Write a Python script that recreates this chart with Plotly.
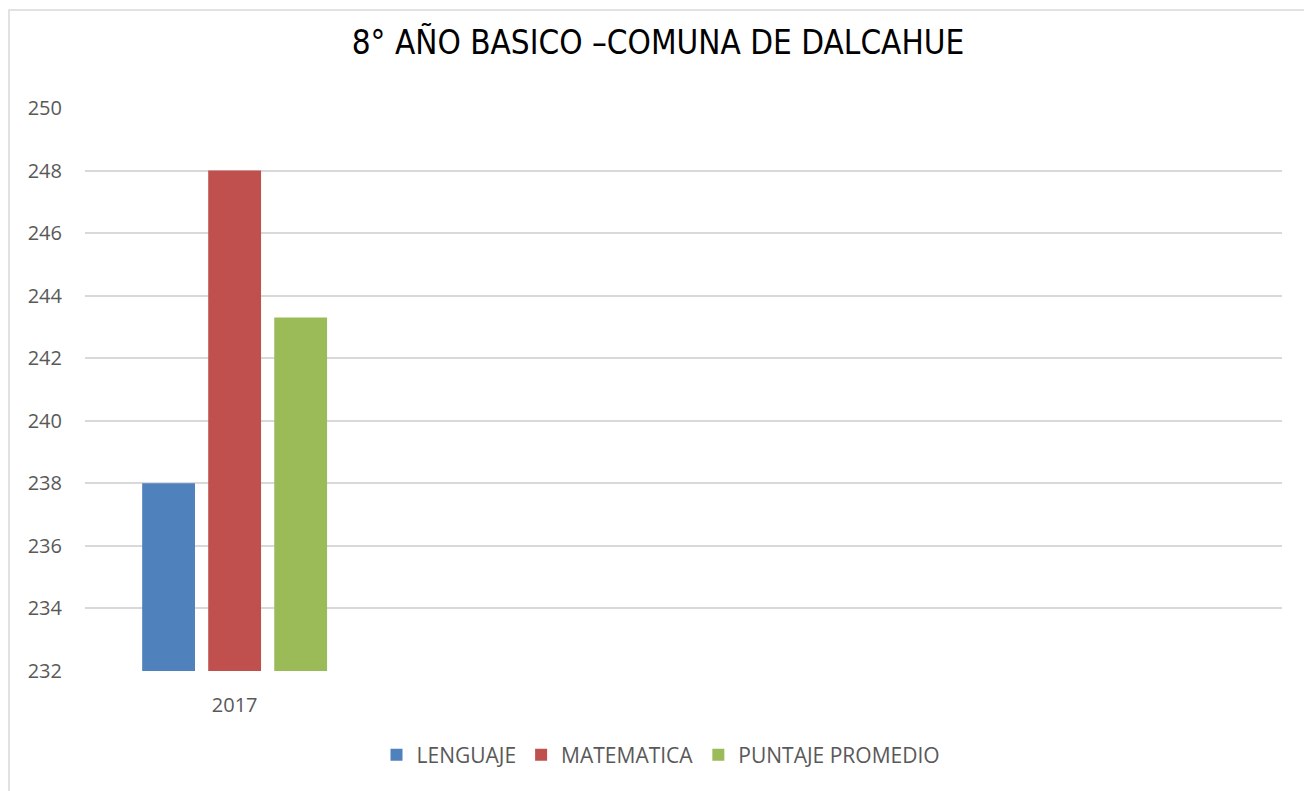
import plotly.graph_objects as go

# data
categories = ["2017", "c2", "c3", "c4"]
tick_labels = ["2017", "", "", ""]
series_names = ["LENGUAJE", "MATEMATICA", "PUNTAJE PROMEDIO"]
lenguaje = [238]
matematica = [248]
promedio = [243.3]
colors = ["#4F81BD", "#C0504D", "#9BBB59"]

# the page body has an 8px margin, so the figure is drawn 8px in from the window
OFF = 8
W, H = 1312 - OFF, 791 - OFF
L, T = 85 - OFF, 108 - OFF
R = W - (1282 - OFF)
B = H - (671 - OFF)
plot_w = W - L - R
plot_h = H - T - B

fig = go.Figure()
for name, vals, col in zip(series_names, [lenguaje, matematica, promedio], colors):
    fig.add_trace(go.Bar(x=categories[:1], y=vals, name=name, marker=dict(color=col, line=dict(width=0))))

# outer chart border
fig.add_shape(
    type="rect", xref="paper", yref="paper",
    x0=(9 - OFF - L) / plot_w, x1=(1311 - OFF - L) / plot_w,
    y0=-0.5, y1=1 + (T - (10 - OFF)) / plot_h,
    line=dict(color="#d9d9d9", width=1.5), layer="below",
)

fig.update_layout(
    width=W, height=H,
    margin=dict(l=L, r=R, t=T, b=B),
    paper_bgcolor="white", plot_bgcolor="white",
    title=dict(
        text="8° AÑO BASICO –COMUNA DE DALCAHUE",
        x=(658 - OFF) / W, xref="container", xanchor="center",
        y=1 - (42 - OFF) / H, yref="container", yanchor="middle",
        font=dict(family="Liberation Sans Narrow, DejaVu Sans Condensed, Open Sans", size=33, color="black"),
    ),
    barmode="group", bargap=0.338, bargroupgap=0.2,
    xaxis=dict(
        type="category", categoryorder="array", categoryarray=categories,
        tickvals=categories, ticktext=tick_labels,
        range=[-0.5, 3.5], showgrid=False, zeroline=False, showline=False,
        ticks="", ticklabelstandoff=20,
        tickfont=dict(family="Open Sans", size=20, color="#595959"),
    ),
    yaxis=dict(
        range=[232, 250], dtick=2, tick0=232, showgrid=True, gridcolor="#d9d9d9", gridwidth=1.5,
        zeroline=False, showline=False, ticks="", ticklabelstandoff=22,
        tickfont=dict(family="Open Sans", size=20, color="#595959"),
    ),
    legend=dict(
        orientation="h", xref="container", x=(661 - OFF) / W, xanchor="center",
        yref="container", y=1 - (755 - OFF) / H, yanchor="middle",
        font=dict(family="Open Sans", size=21, color="#595959"),
        itemwidth=30, traceorder="normal",
    ),
    showlegend=True,
)

fig.write_html("out.html")
